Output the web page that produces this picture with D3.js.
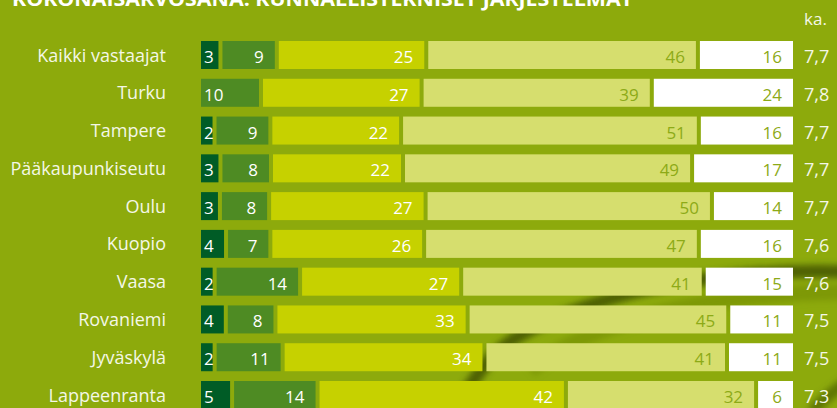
<!DOCTYPE html>
<html>
<head>
<meta charset="utf-8">
<script src="https://cdn.jsdelivr.net/npm/d3@7"></script>
<style>
  body { margin: 0; padding: 0; background: #8DAA0C; }
  svg { display: block; }
</style>
</head>
<body>
<div class="chart"></div>
<script>
const categories = ['Kaikki vastaajat', 'Turku', 'Tampere', 'Pääkaupunkiseutu', 'Oulu',
  'Kuopio', 'Vaasa', 'Rovaniemi', 'Jyväskylä', 'Lappeenranta'];
const s1 = [3, 0, 2, 3, 3, 4, 2, 4, 2, 5];
const s2 = [9, 10, 9, 8, 8, 7, 14, 8, 11, 14];
const s3 = [25, 27, 22, 22, 27, 26, 27, 33, 34, 42];
const s4 = [46, 39, 51, 49, 50, 47, 41, 45, 41, 32];
const s5 = [16, 24, 16, 17, 14, 16, 15, 11, 11, 6];
const avg = ['7,7', '7,8', '7,7', '7,7', '7,7', '7,6', '7,6', '7,5', '7,5', '7,3'];
const title = 'KOKONAISARVOSANA: KUNNALLISTEKNISET JÄRJESTELMÄT';

const width = 837, height = 408;
const fills = ['#005C26', '#4E8B23', '#C6D100', '#D6DE6E', '#FFFFFF'];
const textFills = ['#FFFFFF', '#FFFFFF', '#FFFFFF', '#8DAA17', '#8DAA17'];
const barX0 = 201, barX1 = 793, gap = 4, barH = 28;

const svg = d3.select('.chart').append('svg')
  .attr('width', width).attr('height', height);

// background with the dark leaf streak
const defs = svg.append('defs');
defs.append('filter').attr('id', 'blur').append('feGaussianBlur').attr('stdDeviation', 3);
svg.append('rect').attr('width', width).attr('height', height).attr('fill', '#8DAA0C');
const bg = svg.append('g').attr('filter', 'url(#blur)');
bg.append('path')
  .attr('d', 'M850,272 C760,268 660,282 600,302 C545,320 505,338 485,365 C472,382 462,396 455,412')
  .attr('fill', 'none').attr('stroke', '#3F5004').attr('stroke-width', 13).attr('opacity', 0.8);
bg.append('path')
  .attr('d', 'M850,292 C780,292 700,300 640,318 C600,330 560,345 530,370')
  .attr('fill', 'none').attr('stroke', '#6E8808').attr('stroke-width', 16).attr('opacity', 0.5);
bg.append('path')
  .attr('d', 'M850,380 C835,390 822,400 812,412')
  .attr('fill', 'none').attr('stroke', '#4D5F06').attr('stroke-width', 12).attr('opacity', 0.7);

// title (cut by the top edge, as in the source)
svg.append('text')
  .attr('x', 12).attr('y', 6)
  .attr('font-family', 'Open Sans').attr('font-weight', 700).attr('font-size', 20)
  .attr('fill', '#FFFFFF')
  .attr('textLength', 621).attr('lengthAdjust', 'spacingAndGlyphs')
  .text(title);

svg.append('text')
  .attr('x', 804).attr('y', 25)
  .attr('font-family', 'Open Sans').attr('font-size', 17)
  .attr('fill', '#F4F7E6')
  .text('ka.');

const y = d3.scalePoint().domain(categories).range([41, 381]);

const rows = categories.map((c, i) => {
  const vals = [s1[i], s2[i], s3[i], s4[i], s5[i]];
  const segs = vals.map((v, k) => ({ v, k })).filter(d => d.v > 0);
  const sum = d3.sum(segs, d => d.v);
  const x = d3.scaleLinear().domain([0, sum])
    .range([0, (barX1 - barX0) - gap * (segs.length - 1)]);
  let acc = 0;
  segs.forEach((d, j) => {
    d.x0 = barX0 + x(acc) + gap * j;
    acc += d.v;
    d.x1 = barX0 + x(acc) + gap * j;
    d.first = j === 0;
  });
  return { cat: c, segs, avg: avg[i] };
});

const row = svg.selectAll('g.row')
  .data(rows)
  .enter()
  .append('g')
  .attr('class', 'row')
  .attr('transform', d => 'translate(0,' + y(d.cat) + ')');

row.append('text')
  .attr('x', 166).attr('y', barH / 2 + 6.5)
  .attr('text-anchor', 'end')
  .attr('font-family', 'Open Sans').attr('font-size', 18)
  .attr('fill', '#F4F7E6')
  .text(d => d.cat);

const seg = row.selectAll('g.seg')
  .data(d => d.segs)
  .enter()
  .append('g');

seg.append('rect')
  .attr('x', d => d.x0)
  .attr('y', 0)
  .attr('width', d => d.x1 - d.x0)
  .attr('height', barH)
  .attr('fill', d => fills[d.k]);

seg.append('text')
  .attr('x', d => d.first ? d.x0 + 3 : d.x1 - 11)
  .attr('y', barH / 2 + 8)
  .attr('text-anchor', d => d.first ? 'start' : 'end')
  .attr('font-family', 'Open Sans').attr('font-size', 17)
  .attr('fill', d => textFills[d.k])
  .text(d => d.v);

row.append('text')
  .attr('x', 804).attr('y', barH / 2 + 8)
  .attr('font-family', 'Open Sans').attr('font-size', 18)
  .attr('fill', '#F4F7E6')
  .text(d => d.avg);
</script>
</body>
</html>
